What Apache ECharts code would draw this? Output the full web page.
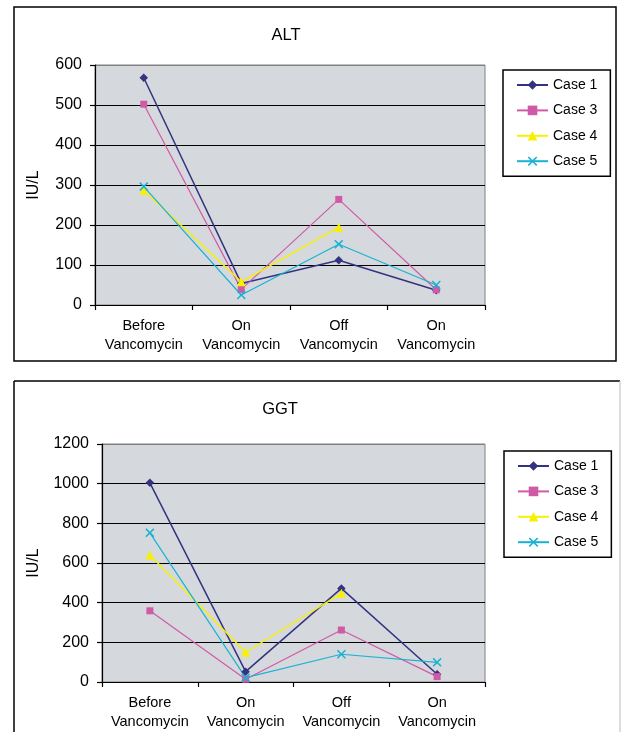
<!DOCTYPE html>
<html>
<head>
<meta charset="utf-8">
<script src="https://cdn.jsdelivr.net/npm/echarts@6/dist/echarts.min.js"></script>
<style>
html,body{margin:0;padding:0;background:#fff;}
#c{width:621px;height:732px;}
</style>
</head>
<body>
<div id="c"></div>
<script>
var categories = ['Before\nVancomycin', 'On\nVancomycin', 'Off\nVancomycin', 'On\nVancomycin'];
var seriesNames = ['Case 1', 'Case 3', 'Case 4', 'Case 5'];
var altTicks = [0, 100, 200, 300, 400, 500, 600];
var ggtTicks = [0, 200, 400, 600, 800, 1000, 1200];

var altCase1 = [568, 54, 112, 37];
var altCase3 = [502, 39, 264, 38];
var altCase4 = [287, 58, 194, null];
var altCase5 = [296, 25, 152, 50];

var ggtCase1 = [1004, 52, 472, 39];
var ggtCase3 = [359, 14, 262, 27];
var ggtCase4 = [640, 150, 447, null];
var ggtCase5 = [752, 22, 140, 99];

var FONT = '"Liberation Sans", Arial, sans-serif';
var colors = ['#333380', '#d05aa6', '#f7f000', '#1ab2d2'];
var xPath = 'path://M0,1.2L1.2,0L5,3.8L8.8,0L10,1.2L6.2,5L10,8.8L8.8,10L5,6.2L1.2,10L0,8.8L3.8,5Z';
var symbols = ['diamond', 'rect', 'triangle', xPath];
var symbolSizes = [8.5, 7, 9, 9];
var lineWidths = [1.5, 1.2, 1.4, 1.2];

function splitColors(n) {
  var a = [];
  for (var i = 0; i < n - 1; i++) a.push('#000');
  a.push('#808080');
  return a;
}

function makeSeries(dataSets, idx) {
  return dataSets.map(function (d, i) {
    return {
      name: seriesNames[i],
      type: 'line',
      xAxisIndex: idx,
      yAxisIndex: idx,
      data: d,
      symbol: symbols[i],
      symbolSize: symbolSizes[i],
      showAllSymbol: true,
      connectNulls: false,
      color: colors[i],
      lineStyle: { color: colors[i], width: lineWidths[i] },
      itemStyle: { color: colors[i] },
      emphasis: { disabled: true },
      animation: false
    };
  });
}

function yAxis(idx, ticks, gap) {
  return {
    type: 'value',
    gridIndex: idx,
    min: ticks[0],
    max: ticks[ticks.length - 1],
    interval: ticks[1] - ticks[0],
    name: 'IU/L',
    nameLocation: 'middle',
    nameRotate: 90,
    nameGap: gap,
    nameTextStyle: { fontFamily: FONT, fontSize: 16, color: '#000' },
    axisLine: { show: true, lineStyle: { color: '#000', width: 1.2 } },
    axisTick: { show: true, length: 5, lineStyle: { color: '#000', width: 1.2 } },
    axisLabel: { margin: 13, fontFamily: FONT, fontSize: 16, color: '#000',
      formatter: function (v) { return String(v); } },
    splitLine: { show: true, lineStyle: { color: splitColors(ticks.length), width: 1.1 } }
  };
}

function xAxis(idx) {
  return {
    type: 'category',
    gridIndex: idx,
    data: categories,
    boundaryGap: true,
    axisLine: { show: true, lineStyle: { color: '#000', width: 1.2 } },
    axisTick: { show: true, length: 5, lineStyle: { color: '#000', width: 1.2 } },
    axisLabel: { margin: 11, fontFamily: FONT, fontSize: 14.5, lineHeight: 19, color: '#000', interval: 0 },
    splitLine: { show: false }
  };
}

function legend(left, top) {
  return {
    orient: 'vertical',
    left: left,
    top: top,
    data: seriesNames,
    itemWidth: 31,
    itemHeight: 12,
    itemGap: 11.4,
    padding: [8, 13, 8, 13],
    borderColor: '#000',
    borderWidth: 1.5,
    backgroundColor: '#fff',
    textStyle: { fontFamily: FONT, fontSize: 14, color: '#000' },
    selectedMode: false
  };
}

var chart = echarts.init(document.getElementById('c'), null, { renderer: 'canvas' });

var series = makeSeries([altCase1, altCase3, altCase4, altCase5], 0)
  .concat(makeSeries([ggtCase1, ggtCase3, ggtCase4, ggtCase5], 1));

chart.setOption({
  animation: false,
  backgroundColor: '#fff',
  title: [
    { text: 'ALT', left: 286, top: 27, textAlign: 'center', padding: 0,
      textStyle: { fontFamily: FONT, fontSize: 16.5, fontWeight: 'normal', color: '#000' } },
    { text: 'GGT', left: 280, top: 401, textAlign: 'center', padding: 0,
      textStyle: { fontFamily: FONT, fontSize: 16.5, fontWeight: 'normal', color: '#000' } }
  ],
  legend: [legend(503, 70), legend(504, 451)],
  grid: [
    { left: 95, top: 65, width: 390, height: 240, show: true, backgroundColor: '#d5d9dd', borderColor: '#808080', borderWidth: 1 },
    { left: 102, top: 444, width: 383, height: 238, show: true, backgroundColor: '#d5d9dd', borderColor: '#808080', borderWidth: 1 }
  ],
  xAxis: [xAxis(0), xAxis(1)],
  yAxis: [yAxis(0, altTicks, 53), yAxis(1, ggtTicks, 60)],
  series: series,
  graphic: [
    { type: 'rect', shape: { x: 14, y: 7, width: 602, height: 354 }, style: { fill: 'none', stroke: '#000', lineWidth: 1.5 }, silent: true, z: -1 },
    { type: 'line', shape: { x1: 14, y1: 381, x2: 620, y2: 381 }, style: { stroke: '#000', lineWidth: 1.5 }, silent: true },
    { type: 'line', shape: { x1: 14, y1: 381, x2: 14, y2: 740 }, style: { stroke: '#000', lineWidth: 1.5 }, silent: true },
    { type: 'line', shape: { x1: 620, y1: 381, x2: 620, y2: 740 }, style: { stroke: '#c8c8c8', lineWidth: 1.2 }, silent: true }
  ]
});
</script>
</body>
</html>
